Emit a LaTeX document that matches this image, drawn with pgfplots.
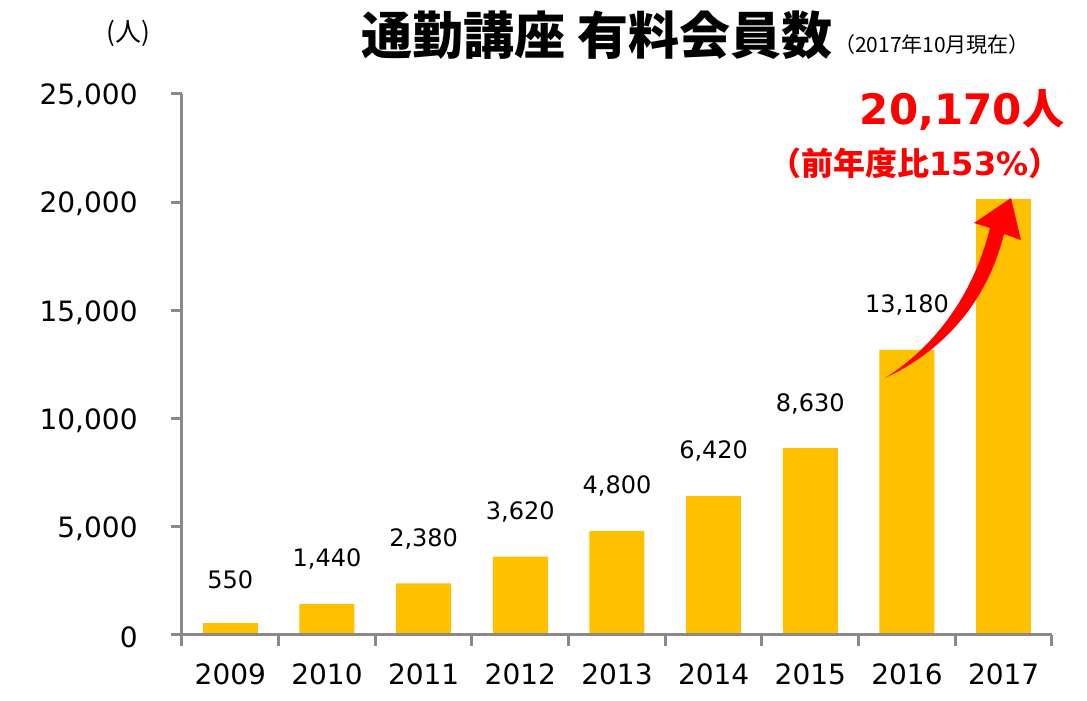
\documentclass[border=0pt]{standalone}
\usepackage{pgfplots}
\pgfplotsset{compat=1.18}
\usepackage{fontspec}
\setmainfont{DejaVu Sans}
\newfontfamily\jp{Noto Sans CJK JP}
\definecolor{barc}{HTML}{FFC000}
\definecolor{axc}{HTML}{898989}
\definecolor{redc}{HTML}{FF0000}

\begin{document}
\begin{tikzpicture}
\begin{axis}[
  at={(91pt,33pt)}, anchor=south west,
  scale only axis, width=435pt, height=270.5pt,
  xmin=-0.5, xmax=8.5, ymin=0, ymax=25000,
  axis x line=bottom, axis y line=left,
  axis line style={axc, line width=1.5pt, -},
  axis on top,
  every tick/.style={axc, line width=1.5pt},
  tick align=outside, major tick length=5.5pt,
  xtick={-0.5,0.5,...,8.5},
  xticklabels={2009,2010,2011,2012,2013,2014,2015,2016,2017,{}},
  xticklabel style={font=\fontsize{14}{16}\selectfont, anchor=north, inner sep=0pt, xshift=24.17pt, yshift=-8.5pt},
  ytick={0,5000,10000,15000,20000,25000},
  scaled y ticks=false,
  yticklabel style={font=\fontsize{14}{16}\selectfont, anchor=east, inner sep=0pt, xshift=-16.5pt, yshift=-1pt,
    /pgf/number format/1000 sep={,}, /pgf/number format/assume math mode=true},
  nodes near coords style={font=\fontsize{12}{14}\selectfont, anchor=south, inner sep=0pt, yshift=17pt,
    /pgf/number format/1000 sep={,}, /pgf/number format/assume math mode=true},
]
% 2009-2016
\addplot[ybar, bar width=27.5pt, bar shift=0pt, fill=barc, draw=none, nodes near coords]
  coordinates {(0,550) (1,1440) (2,2380) (3,3620) (4,4800) (5,6420) (6,8630) (7,13180)};
% 2017
\addplot[ybar, bar width=27.5pt, bar shift=0pt, fill=barc, draw=none]
  coordinates {(8,20170)};
\end{axis}

\begin{scope}[x=0.5pt, y=-0.5pt, yshift=350.5pt]
  \node at (597,35) {\jp\bfseries\fontsize{25.5}{27}\selectfont 通勤講座 有料会員数};
  \node at (932,45) {\jp\fontsize{10.5}{12}\selectfont （2017年10月現在）};
  \node at (128,33) {\jp\fontsize{13}{15}\selectfont (人)};
  \node[text=redc] at (962,110) {\bfseries\fontsize{21}{24}\selectfont 20,170{\jp\bfseries 人}};
  \node[text=redc] at (915,163) {\bfseries\fontsize{16}{18}\selectfont{\jp\bfseries （前年度比}153\%{\jp\bfseries ）}};
  % curved arrow
  \fill[redc] (885,378) .. controls (935,355) and (985,310) .. (1004,234) -- (1021,240) -- (1011,198)
    -- (974,223) -- (990,228) .. controls (972,300) and (930,350) .. (885,378) -- cycle;
\end{scope}
\pgfresetboundingbox
\useasboundingbox (0,0) rectangle (543.5pt,350.5pt);
\end{tikzpicture}
\end{document}
